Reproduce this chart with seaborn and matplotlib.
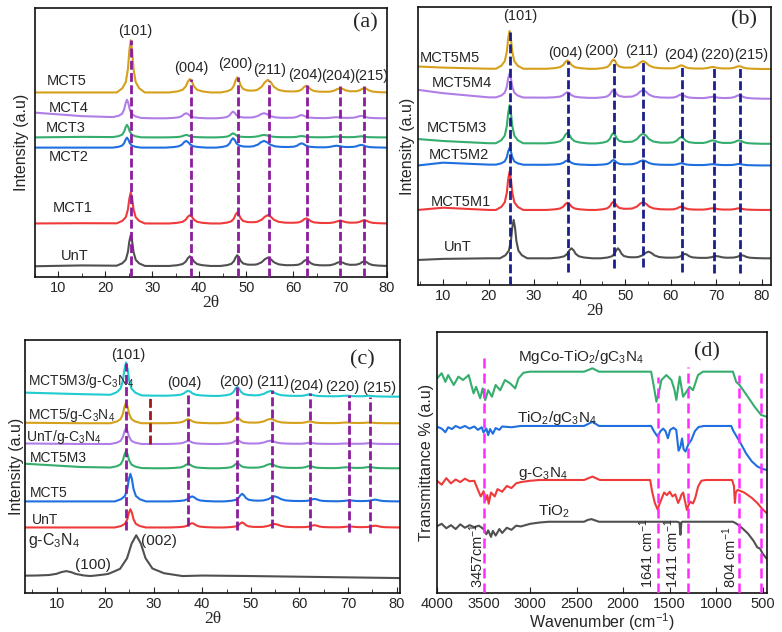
import numpy as np
import matplotlib
matplotlib.use('Agg')
import matplotlib.pyplot as plt
import seaborn as sns

# ---------------- data ----------------
# peak profile template (offsets in units of the half base width, relative heights)
SHAPE_DX = np.array([-1, -0.6, -0.35, -0.2, -0.1, 0, 0.1, 0.2, 0.35, 0.6, 1])
SHAPE_FR = np.array([0, 0.08, 0.2, 0.45, 0.8, 1, 0.8, 0.45, 0.2, 0.08, 0])

# (a) XRD of MCT series
a_names = ['UnT', 'MCT1', 'MCT2', 'MCT3', 'MCT4', 'MCT5']
a_colors = ['#505050', '#ef3a3a', '#1f6fe0', '#35ad6c', '#b07ee6', '#d5a11c']
a_pos_1 = [25.4, 38.0, 48.1, 54.6, 62.8, 70.0, 75.2]
a_pos_2 = [24.6, 37.2, 47.2, 53.8, 61.8, 69.2, 74.5]
a_pos = [a_pos_1, a_pos_1, a_pos_2, a_pos_2, a_pos_2, a_pos_1]
a_widths = [3.0, 4.4, 3.6, 6.5, 4.8, 6.0, 5.0]
a_heights = [
    [11.4, 3.6, 4.0, 3.1, 2.3, 1.5, 1.7],
    [11.5, 3.1, 4.1, 3.1, 1.9, 1.0, 1.2],
    [3.7, 2.5, 3.5, 2.5, 1.6, 0.7, 1.0],
    [4.6, 0.9, 1.5, 0.9, 0.5, 0.3, 0.4],
    [6.6, 1.9, 2.5, 1.9, 1.2, 0.4, 0.9],
    [19.4, 5.0, 5.6, 4.7, 2.5, 1.6, 1.6],
]
a_bg_x = [5, 15, 30, 80]
a_bg_y = [
    [4.0, 4.3, 4.1, 4.1],
    [19.9, 20.0, 19.9, 19.9],
    [48.1, 48.1, 48.1, 48.1],
    [51.9, 52.1, 51.9, 51.9],
    [61.1, 59.8, 59.0, 59.0],
    [68.6, 68.6, 68.6, 68.6],
]
a_lab_x = [10.6, 8.7, 8.0, 7.3, 8.0, 7.6]
a_lab_y = [7.7, 25.5, 44.7, 55.3, 62.7, 72.7]
a_hkl = ['(101)', '(004)', '(200)', '(211)', '(204)', '(204)', '(215)']
a_hkl_x = [26.4, 38.3, 47.6, 54.9, 62.5, 69.7, 76.6]
a_hkl_y = [91.3, 77.6, 79.3, 77.0, 75.2, 74.8, 74.8]
a_line_x = [25.4, 38.3, 48.2, 54.8, 63.0, 69.9, 75.2]
a_line_top = [88.2, 73.5, 74.2, 72.9, 71.4, 71.1, 71.1]

# (b) XRD of MCT5Mx series
b_names = ['UnT', 'MCT5M1', 'MCT5M2', 'MCT5M3', 'MCT5M4', 'MCT5M5']
b_colors = ['#505050', '#ef3a3a', '#1f6fe0', '#35ad6c', '#b07ee6', '#d5a11c']
b_pos_1 = [25.5, 38.2, 48.4, 55.1, 63.1, 70.0, 75.6]
b_pos_2 = [24.6, 37.3, 47.4, 53.9, 62.3, 69.2, 75.0]
b_pos = [b_pos_1] + [b_pos_2] * 5
b_widths = [3.0, 4.6, 3.8, 6.5, 4.8, 6.0, 5.0]
b_heights = [
    [13.8, 3.6, 3.6, 2.4, 1.6, 0.8, 1.1],
    [13.8, 2.6, 3.0, 2.8, 1.2, 0.6, 0.6],
    [6.0, 1.6, 1.8, 1.7, 0.7, 0.4, 0.5],
    [13.7, 3.8, 3.8, 3.6, 2.4, 1.2, 1.2],
    [8.6, 2.0, 2.9, 2.9, 1.4, 0.6, 1.2],
    [13.6, 3.0, 3.4, 2.8, 1.3, 0.7, 1.0],
]
b_bg_x = [4.5, 10, 20, 82]
b_bg_y = [
    [9.0, 9.4, 9.6, 9.6],
    [27.0, 27.8, 27.0, 27.0],
    [43.0, 44.0, 43.3, 43.0],
    [52.5, 51.8, 51.0, 50.8],
    [70.2, 69.0, 67.5, 67.0],
    [78.6, 78.2, 77.8, 77.7],
]
b_lab_x = [10.1, 7.2, 6.9, 6.5, 7.6, 4.9]
b_lab_y = [13.8, 30.0, 46.8, 56.4, 72.6, 81.6]
b_hkl = ['(101)', '(004)', '(200)', '(211)', '(204)', '(220)', '(215)']
b_hkl_x = [27.0, 36.8, 44.7, 53.7, 62.3, 70.1, 77.7]
b_hkl_y = [96.6, 83.4, 84.0, 84.0, 82.8, 82.8, 82.8]
b_line_x = [24.6, 37.4, 47.5, 54.0, 62.5, 69.4, 75.3]
b_line_top = [91.0, 80.5, 81.0, 80.4, 79.0, 78.3, 78.6]
b_line_bot = [0, 4.5, 6.0, 6.6, 4.8, 4.2, 4.2]

# (c) XRD of g-C3N4 composites
c_names = ['UnT', 'MCT5', 'MCT5M3', 'UnT/g-C$_3$N$_4$', 'MCT5/g-C$_3$N$_4$',
           'MCT5M3/g-C$_3$N$_4$']
c_colors = ['#ef3a3a', '#1f6fe0', '#35ad6c', '#b07ee6', '#d5a11c', '#1fcbcf']
c_pos_1 = [25.2, 37.9, 48.2, 54.9, 63.1, 70.3, 75.6]
c_pos_2 = [24.3, 37.1, 47.2, 54.0, 62.1, 69.6, 74.4]
c_pos = [c_pos_1, c_pos_1, c_pos_2, c_pos_2, c_pos_2, c_pos_2]
c_widths = [3.2, 4.6, 3.8, 6.5, 4.8, 6.0, 5.0]
c_heights = [
    [7.2, 1.7, 2.0, 1.4, 0.9, 0.4, 0.7],
    [10.9, 2.0, 3.0, 2.0, 1.0, 0.4, 0.7],
    [6.6, 1.7, 2.0, 1.7, 0.9, 0.4, 0.5],
    [6.2, 1.2, 1.6, 1.3, 0.5, 0.2, 0.3],
    [8.2, 1.6, 2.4, 1.7, 0.7, 0.3, 0.3],
    [12.9, 2.0, 3.6, 2.0, 0.8, 0.3, 0.3],
]
c_bg_x = [3.5, 15, 30, 80.7]
c_bg_y = [
    [25.9, 25.9, 25.9, 25.9],
    [36.2, 36.2, 36.2, 36.2],
    [51.1, 49.8, 49.3, 49.3],
    [59.1, 58.9, 58.9, 58.9],
    [67.3, 67.1, 67.1, 67.1],
    [79.2, 78.6, 78.0, 77.6],
]
gcn_bg_x = [3.5, 15, 20, 30, 40, 50, 80.7]
gcn_bg_y = [6.8, 6.6, 6.2, 6.4, 6.9, 6.7, 5.9]
gcn_pos = [12.0, 26.4]
gcn_heights = [2.0, 16.5]
gcn_widths = [10.0, 9.5]
c_lab_x = [4.9, 4.5, 4.5, 3.8, 4.2, 4.2]
c_lab_y = [28.9, 39.7, 53.3, 61.8, 70.4, 83.6]
c_hkl = ['(101)', '(004)', '(200)', '(211)', '(204)', '(220)', '(215)']
c_hkl_x = [24.7, 36.4, 47.1, 54.5, 61.5, 68.9, 76.4]
c_hkl_y = [94.1, 82.9, 83.5, 83.5, 81.8, 81.3, 80.9]
c_line_x = [24.3, 37.05, 47.2, 54.4, 62.2, 70.1, 74.6]
c_line_top = [90.8, 79.6, 81.3, 80.3, 79.2, 78.3, 77.6]
c_line_bot = [25.0, 26.3, 25.0, 25.7, 25.0, 24.3, 23.7]

# (d) FTIR spectra (wavenumber, transmittance)
tio2_wn = [4000, 3950, 3900, 3850, 3800, 3750, 3700, 3650, 3600, 3550, 3500, 3470,
           3450, 3420, 3400, 3370, 3330, 3300, 3250, 3200, 3150, 3100, 3000, 2900,
           2800, 2420, 2380, 2340, 2300, 2260, 1420, 1395, 1385, 1375, 1365, 820,
           780, 720, 660, 600, 560, 530, 500, 460]
tio2_t = [25.6, 26.5, 24.8, 26.0, 24.5, 26.3, 25.0, 26.0, 25.2, 25.8, 24.5, 22.5,
          24.0, 21.5, 23.8, 22.0, 24.5, 23.0, 25.0, 24.2, 25.8, 25.5, 26.5, 27.0,
          27.3, 27.3, 28.0, 28.3, 27.8, 27.3, 27.3, 27.0, 22.3, 27.0, 27.3, 27.3,
          26.5, 24.8, 22.8, 20.0, 17.5, 17.0, 15.0, 13.2]
gcn_wn = [4000, 3950, 3900, 3850, 3800, 3750, 3700, 3650, 3600, 3560, 3530, 3500,
          3480, 3460, 3445, 3420, 3380, 3350, 3300, 3250, 3200, 3150, 3100, 3000,
          2900, 2420, 2330, 2250, 1710, 1690, 1660, 1630, 1600, 1560, 1530, 1500,
          1470, 1440, 1410, 1390, 1375, 1355, 1335, 1315, 1300, 1280, 1250, 1225,
          1195, 1160, 1110, 830, 810, 800, 790, 770, 700, 620, 560, 500, 455]
gcn_t = [43.0, 41.5, 44.0, 42.0, 43.5, 42.5, 43.8, 42.8, 43.0, 39.5, 37.0, 39.0,
         35.5, 37.5, 34.2, 38.5, 37.0, 39.8, 38.8, 41.0, 40.2, 42.0, 42.5, 43.0,
         43.3, 43.3, 44.6, 43.3, 43.3, 39.0, 34.5, 32.0, 35.0, 38.5, 37.5, 38.8,
         37.0, 37.8, 34.5, 36.0, 37.6, 38.5, 35.0, 31.8, 33.5, 35.0, 34.3, 36.5,
         40.8, 43.0, 43.3, 43.3, 41.0, 34.5, 38.5, 39.5, 38.5, 36.5, 34.5, 32.0, 30.5]
tg_wn = [4000, 3950, 3910, 3880, 3840, 3800, 3750, 3700, 3650, 3600, 3560, 3520,
         3500, 3470, 3450, 3430, 3400, 3370, 3330, 3300, 3200, 3100, 2420, 2330,
         2260, 1700, 1670, 1630, 1600, 1570, 1545, 1520, 1495, 1460, 1430, 1405,
         1385, 1368, 1350, 1330, 1300, 1268, 1230, 1190, 1130, 840, 815, 790, 740,
         680, 620, 560, 500, 455]
tg_t = [63.7, 63.0, 61.6, 63.5, 62.8, 64.0, 63.2, 64.0, 63.0, 63.8, 62.5, 63.5,
        61.5, 63.0, 60.5, 62.8, 61.0, 63.2, 62.5, 63.8, 63.5, 64.0, 64.0, 65.6,
        64.0, 64.0, 62.0, 59.9, 62.0, 63.0, 62.0, 59.3, 62.5, 63.3, 62.5, 54.5,
        56.0, 59.2, 55.0, 54.2, 57.0, 58.6, 62.0, 63.6, 64.0, 64.0, 62.0, 60.5,
        57.5, 53.5, 50.5, 48.5, 47.5, 47.1]
mg_wn = [4000, 3950, 3910, 3880, 3820, 3770, 3720, 3660, 3607, 3580, 3536, 3510,
         3482, 3450, 3410, 3370, 3321, 3270, 3214, 3160, 3125, 3071, 3000, 2420,
         2330, 2260, 1700, 1670, 1643, 1610, 1589, 1536, 1482, 1450, 1429, 1393,
         1357, 1321, 1286, 1250, 1196, 1143, 821, 786, 750, 661, 589, 518, 457]
mg_t = [82.2, 84.2, 80.9, 83.5, 79.7, 82.9, 81.6, 83.5, 76.5, 79.0, 74.6, 78.4,
        73.9, 77.7, 75.2, 79.7, 77.7, 81.6, 80.3, 78.4, 82.2, 84.4, 84.8, 84.8,
        86.1, 84.8, 84.8, 79.0, 73.3, 78.0, 81.6, 83.5, 81.6, 78.0, 74.0, 82.9,
        75.2, 77.1, 79.0, 77.7, 83.5, 84.8, 84.8, 80.9, 79.7, 75.2, 71.4, 68.2, 67.5]
d_names = ['TiO$_2$', 'g-C$_3$N$_4$', 'TiO$_2$/gC$_3$N$_4$', 'MgCo-TiO$_2$/gC$_3$N$_4$']
d_colors = ['#505050', '#ef3a3a', '#1f6fe0', '#35ad6c']
d_wn = [tio2_wn, gcn_wn, tg_wn, mg_wn]
d_t = [tio2_t, gcn_t, tg_t, mg_t]
d_lab_x = [2910, 3130, 3136, 3130]
d_lab_y = [31.2, 45.8, 66.9, 90.5]
d_line_x = [3490, 1625, 1305, 760, 520]
d_line_top = [91.8, 82.9, 86.7, 83.5, 85.4]
d_bands = ['3457cm$^{-1}$', '1641 cm$^{-1}$', '1411 cm$^{-1}$', '804 cm$^{-1}$']
d_band_x = [3571, 1750, 1482, 857]


def xrd_curve(bx, by, pos, hts, widths):
    xs = [np.asarray(bx, float)]
    for p, w in zip(pos, widths):
        xs.append(p + SHAPE_DX * w)
    x = np.unique(np.concatenate(xs))
    x = x[(x >= bx[0]) & (x <= bx[-1])]
    y = np.interp(x, bx, by)
    for p, h, w in zip(pos, hts, widths):
        y = y + h * np.interp(x, p + SHAPE_DX * w, SHAPE_FR)
    return x, y


# ---------------- style ----------------
sns.set_style('ticks')
plt.rcParams['font.family'] = ['Liberation Sans', 'DejaVu Sans']
plt.rcParams['mathtext.default'] = 'regular'
plt.rcParams['axes.linewidth'] = 1.2
plt.rcParams['axes.edgecolor'] = '#111111'

FS = 10.5
SERIF = ['Liberation Serif', 'DejaVu Serif']

fig = plt.figure(figsize=(7.82, 6.32), dpi=100)
W, H = 782, 632


def px_axes(l, t, r, b):
    return fig.add_axes([l / W, (H - b) / H, (r - l) / W, (b - t) / H])


ax_a = px_axes(35, 8, 387, 277)
ax_b = px_axes(418, 7, 771, 285)
ax_c = px_axes(25, 340, 400, 593)
ax_d = px_axes(437, 332, 767, 593)


def style_xrd(ax, xlim):
    ax.set_xlim(*xlim)
    ax.set_ylim(0, 100)
    ax.set_yticks([])
    ax.set_xticks(range(10, 81, 10))
    ax.set_xticks(range(5, 81, 5), minor=True)
    ax.tick_params(axis='x', which='both', direction='in', labelsize=FS, pad=3)
    ax.tick_params(axis='x', which='major', length=4)
    ax.tick_params(axis='x', which='minor', length=3)
    ax.set_xlabel('2θ', fontsize=12.5, labelpad=0, family=SERIF)
    ax.set_ylabel('Intensity (a.u)', fontsize=FS + 1, labelpad=4)


LW = 1.5
DASH = (0, (3.2, 1.2))

# ---- (a) ----
for i, name in enumerate(a_names):
    x, y = xrd_curve(a_bg_x, a_bg_y[i], a_pos[i], a_heights[i], a_widths)
    sns.lineplot(x=x, y=y, ax=ax_a, color=a_colors[i], lw=LW, sort=False, estimator=None)
    ax_a.text(a_lab_x[i], a_lab_y[i], name, fontsize=FS, ha='left', va='center')
ax_a.vlines(a_line_x, 0, a_line_top, colors='#8b1c9c', lw=2.0, linestyles=DASH, zorder=3)
for t, x, y in zip(a_hkl, a_hkl_x, a_hkl_y):
    ax_a.text(x, y, t, fontsize=FS, ha='center', va='center', clip_on=True)
ax_a.text(75.4, 94.4, '(a)', fontsize=16, family=SERIF, ha='center', va='center')
style_xrd(ax_a, (5, 80))

# ---- (b) ----
for i, name in enumerate(b_names):
    x, y = xrd_curve(b_bg_x, b_bg_y[i], b_pos[i], b_heights[i], b_widths)
    sns.lineplot(x=x, y=y, ax=ax_b, color=b_colors[i], lw=LW, sort=False, estimator=None)
    ax_b.text(b_lab_x[i], b_lab_y[i], name, fontsize=FS, ha='left', va='center')
ax_b.vlines(b_line_x, b_line_bot, b_line_top, colors='#1b1f8a', lw=2.0,
            linestyles=DASH, zorder=3)
for t, x, y in zip(b_hkl, b_hkl_x, b_hkl_y):
    ax_b.text(x, y, t, fontsize=FS, ha='center', va='center', clip_on=True)
ax_b.text(76.0, 95.2, '(b)', fontsize=16, family=SERIF, ha='center', va='center')
style_xrd(ax_b, (4.5, 82))
ax_b.yaxis.labelpad = 2

# ---- (c) ----
x, y = xrd_curve(gcn_bg_x, gcn_bg_y, gcn_pos, gcn_heights, gcn_widths)
sns.lineplot(x=x, y=y, ax=ax_c, color='#505050', lw=LW, sort=False, estimator=None)
for i, name in enumerate(c_names):
    x, y = xrd_curve(c_bg_x, c_bg_y[i], c_pos[i], c_heights[i], c_widths)
    sns.lineplot(x=x, y=y, ax=ax_c, color=c_colors[i], lw=LW, sort=False, estimator=None)
    ax_c.text(c_lab_x[i], c_lab_y[i], name, fontsize=FS - 0.5, ha='left', va='center')
ax_c.text(4.2, 20.8, 'g-C$_3$N$_4$', fontsize=FS + 1, ha='left', va='center')
ax_c.text(17.5, 11.2, '(100)', fontsize=FS + 0.5, ha='center', va='center')
ax_c.text(31.1, 20.4, '(002)', fontsize=FS + 0.5, ha='center', va='center')
ax_c.vlines(c_line_x, c_line_bot, c_line_top, colors='#8b1c9c', lw=2.0,
            linestyles=DASH, zorder=3)
ax_c.vlines([29.3], [58.9], [77.9], colors='#9b1b1b', lw=2.0, linestyles=DASH, zorder=3)
for t, x, y in zip(c_hkl, c_hkl_x, c_hkl_y):
    ax_c.text(x, y, t, fontsize=FS, ha='center', va='center', clip_on=True)
ax_c.text(73.0, 92.1, '(c)', fontsize=16, family=SERIF, ha='center', va='center')
style_xrd(ax_c, (3.5, 80.7))
ax_c.yaxis.labelpad = 1

# ---- (d) ----
for i, name in enumerate(d_names):
    sns.lineplot(x=d_wn[i], y=d_t[i], ax=ax_d, color=d_colors[i], lw=LW,
                 sort=False, estimator=None)
    ax_d.text(d_lab_x[i], d_lab_y[i], name, fontsize=FS + 0.5, ha='left', va='center')
ax_d.vlines(d_line_x, 0, d_line_top, colors='#ff2bff', lw=1.8,
            linestyles=(0, (4, 2)), zorder=3)
for t, x in zip(d_bands, d_band_x):
    ax_d.text(x, 2.0, t, fontsize=FS, rotation=90, ha='center', va='bottom')
ax_d.text(1104, 92.5, '(d)', fontsize=16, family=SERIF, ha='center', va='center')
ax_d.set_xlim(4000, 455)
ax_d.set_ylim(0, 100)
ax_d.set_yticks([])
ax_d.set_xticks(range(4000, 499, -500))
ax_d.tick_params(axis='x', which='both', direction='in', labelsize=FS, pad=3, length=4)
ax_d.set_xlabel('Wavenumber (cm$^{-1}$)', fontsize=FS + 1, labelpad=0)
ax_d.set_ylabel('Transmittance % (a.u)', fontsize=FS + 1, labelpad=2)

fig.savefig('out.png', dpi=100)
